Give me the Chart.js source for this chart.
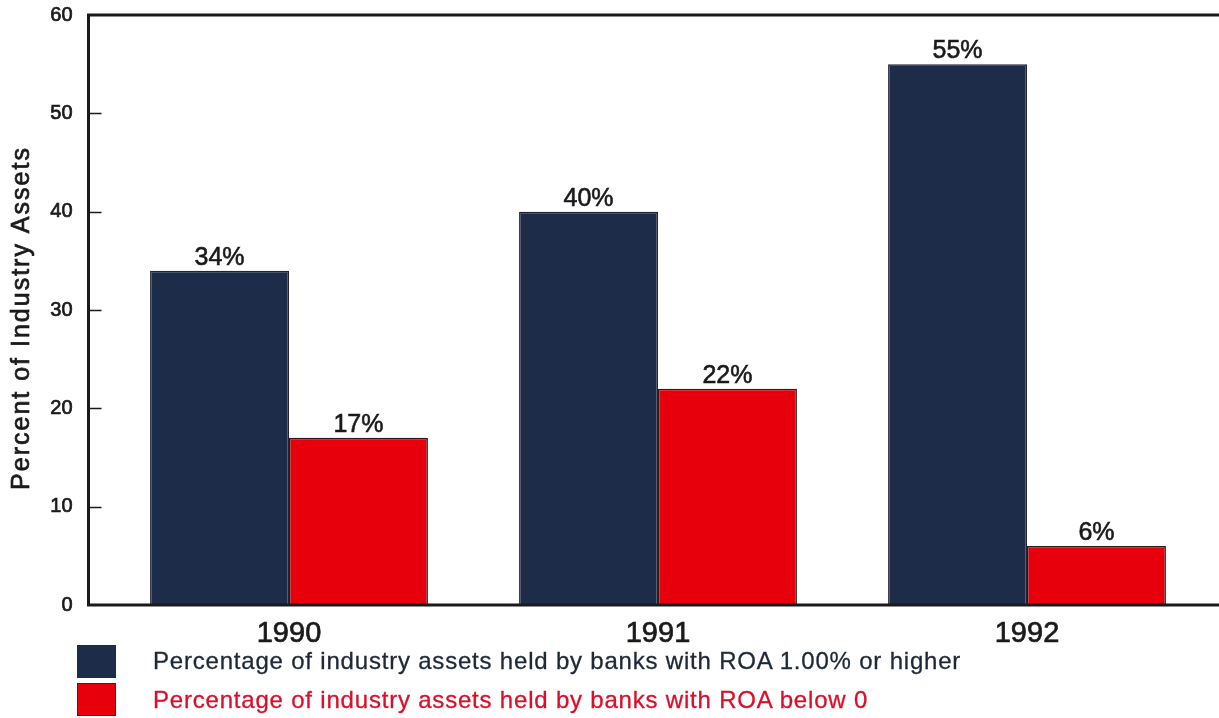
<!DOCTYPE html>
<html>
<head>
<meta charset="utf-8">
<script src="https://cdn.jsdelivr.net/npm/chart.js@4.4.1/dist/chart.umd.min.js"></script>
<style>
  html, body { margin: 0; padding: 0; background: #ffffff; }
  #wrap { position: relative; width: 1219px; height: 718px; overflow: hidden; font-family: "Liberation Sans", Arial, Helvetica, sans-serif; }
  #chart { position: absolute; left: 0; top: 0; }
  .lg-box { position: absolute; left: 77px; width: 39px; height: 33px; box-sizing: border-box; border: 1px solid #2a2a2a; }
  .lg-text { position: absolute; left: 153px; font-size: 24px; line-height: 24px; letter-spacing: 0.8px; white-space: nowrap; -webkit-text-stroke: 0.3px currentColor; }
</style>
</head>
<body>
<div id="wrap">
  <canvas id="chart" width="1219" height="718"></canvas>
  <div id="legend"></div>
</div>
<script>
// ---- data ----
const categories = ['1990', '1991', '1992'];
const roaHighValues = [34, 40, 55];
const roaNegativeValues = [17, 22, 6];
const seriesLabels = [
  'Percentage of industry assets held by banks with ROA 1.00% or higher',
  'Percentage of industry assets held by banks with ROA below 0'
];
const yAxisTitle = 'Percent of Industry Assets';
const yMin = 0, yMax = 60, yStep = 10;

// ---- styles ----
const FONT = '"Liberation Sans", Arial, Helvetica, sans-serif';
const darkFill = '#1d2c48';
const redFill = '#e7000c';
const legendTextColors = ['#1e2838', '#d8102a'];
const inkColor = '#1a1a1a';

// legend (HTML)
const legendEl = document.getElementById('legend');
const fills = [darkFill, redFill];
const boxTops = [645, 683];
const textTops = [649, 688];
seriesLabels.forEach((lab, i) => {
  const b = document.createElement('div');
  b.className = 'lg-box';
  b.style.top = boxTops[i] + 'px';
  b.style.background = fills[i];
  legendEl.appendChild(b);
  const t = document.createElement('div');
  t.className = 'lg-text';
  t.style.top = textTops[i] + 'px';
  t.style.color = legendTextColors[i];
  t.textContent = lab;
  legendEl.appendChild(t);
});

const axisPlugin = {
  id: 'axisPlugin',
  afterDatasetsDraw(chart) {
    const { ctx, chartArea } = chart;
    const y = chart.scales.y;
    const axisX = chartArea.left - 16;
    ctx.save();
    ctx.strokeStyle = inkColor;
    ctx.lineWidth = 3;
    ctx.beginPath();
    ctx.moveTo(chart.width, chartArea.top);
    ctx.lineTo(axisX, chartArea.top);
    ctx.lineTo(axisX, chartArea.bottom);
    ctx.lineTo(chart.width, chartArea.bottom);
    ctx.stroke();
    ctx.lineWidth = 1.5;
    y.ticks.forEach(t => {
      if (t.value === yMin || t.value === yMax) return;
      const py = Math.round(y.getPixelForValue(t.value)) + 0.5;
      ctx.beginPath();
      ctx.moveTo(axisX, py);
      ctx.lineTo(axisX + 13, py);
      ctx.stroke();
    });
    // value labels
    ctx.fillStyle = inkColor;
    ctx.font = '25px ' + FONT;
    ctx.textAlign = 'center';
    ctx.textBaseline = 'alphabetic';
    ctx.lineWidth = 0.6;
    chart.data.datasets.forEach((ds, di) => {
      const meta = chart.getDatasetMeta(di);
      meta.data.forEach((bar, i) => {
        const txt = ds.data[i] + '%';
        ctx.fillText(txt, bar.x, bar.y - 6);
        ctx.strokeText(txt, bar.x, bar.y - 6);
      });
    });
    // y axis title
    ctx.translate(22, (chartArea.top + chartArea.bottom) / 2 + 8);
    ctx.rotate(-Math.PI / 2);
    ctx.font = '25px ' + FONT;
    ctx.letterSpacing = '2px';
    ctx.textAlign = 'center';
    ctx.textBaseline = 'middle';
    ctx.lineWidth = 0.7;
    ctx.fillText(yAxisTitle, 0, 0);
    ctx.strokeText(yAxisTitle, 0, 0);
    ctx.restore();
  }
};

new Chart(document.getElementById('chart'), {
  type: 'bar',
  data: {
    labels: categories,
    datasets: [
      { label: seriesLabels[0], data: roaHighValues, backgroundColor: darkFill, borderColor: '#222230', borderWidth: 1.5 },
      { label: seriesLabels[1], data: roaNegativeValues, backgroundColor: redFill, borderColor: '#2a1a1a', borderWidth: 1.5 }
    ]
  },
  options: {
    responsive: false,
    devicePixelRatio: 1,
    animation: false,
    layout: { padding: { top: 15, right: 7.5, bottom: 0, left: 0 } },
    plugins: { legend: { display: false }, tooltip: { enabled: false }, title: { display: false } },
    datasets: { bar: { categoryPercentage: 0.753, barPercentage: 1.0 } },
    scales: {
      x: {
        offset: true,
        grid: { display: false, drawTicks: false },
        border: { display: false },
        ticks: { color: inkColor, font: { family: FONT, size: 29 }, padding: 12, maxRotation: 0, textStrokeColor: inkColor, textStrokeWidth: 0.7 },
        afterFit: s => { s.height = 113; s.paddingLeft = 0; s.paddingRight = 0; }
      },
      y: {
        min: yMin, max: yMax,
        grid: { display: false, drawTicks: false },
        border: { display: false },
        ticks: { stepSize: yStep, color: inkColor, font: { family: FONT, size: 20 }, padding: 32, textStrokeColor: inkColor, textStrokeWidth: 0.7 },
        afterFit: s => { s.width = 104.5; s.paddingTop = 0; s.paddingBottom = 0; }
      }
    }
  },
  plugins: [axisPlugin]
});
</script>
</body>
</html>
